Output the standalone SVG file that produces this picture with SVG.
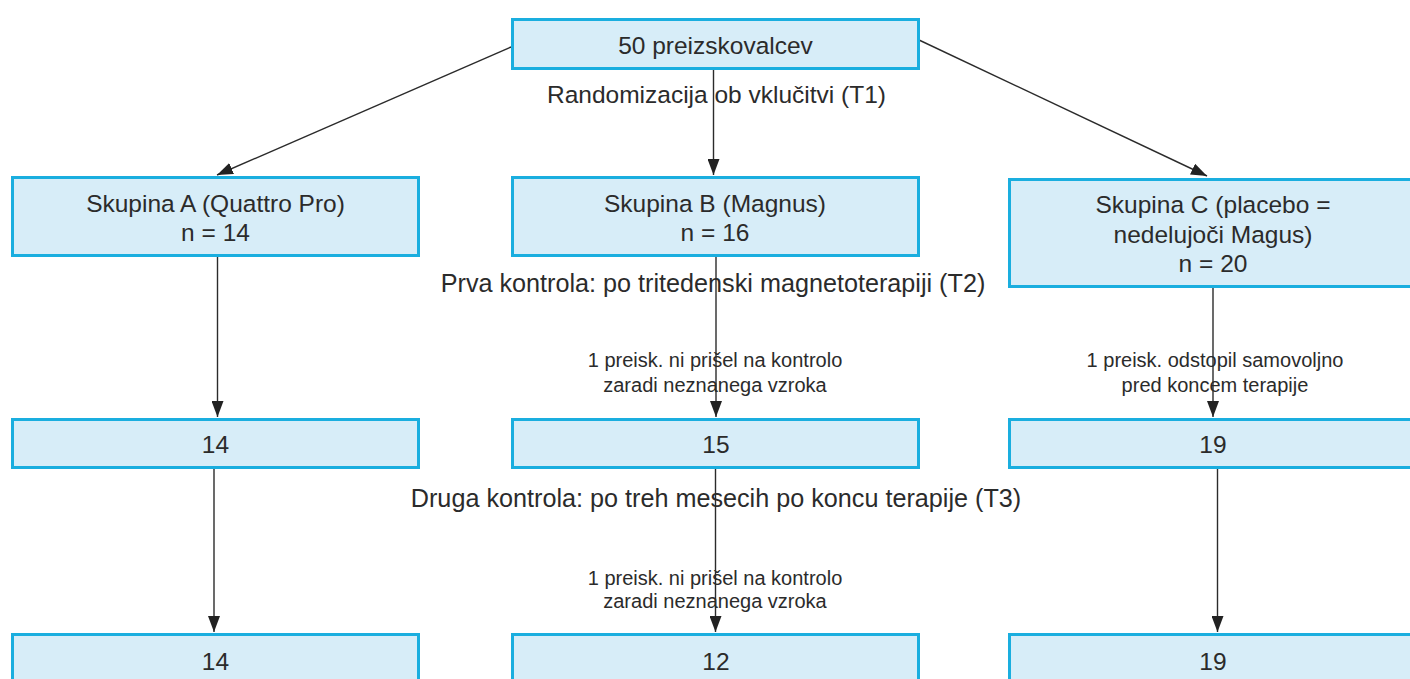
<svg xmlns="http://www.w3.org/2000/svg" width="1410" height="679" viewBox="0 0 1410 679">
<style>
.box{fill:#d7edf8;stroke:#1aaedf;stroke-width:3}
.t{font-family:"Liberation Sans",Arial,sans-serif;font-size:24.5px;fill:#2b2b2b;text-anchor:middle}
.l{font-family:"Liberation Sans",Arial,sans-serif;font-size:25.2px;fill:#2b2b2b;text-anchor:middle}
.s{font-family:"Liberation Sans",Arial,sans-serif;font-size:20px;fill:#2b2b2b;text-anchor:middle}
.c{stroke:#2b2b2b;stroke-width:1.4;fill:none}
</style>
<defs>
<marker id="arr" markerUnits="userSpaceOnUse" markerWidth="16" markerHeight="12" refX="16" refY="6" orient="auto">
<path d="M0,0 L16,6 L0,12 z" fill="#222"/>
</marker>
</defs>
<rect width="1410" height="679" fill="#fff"/>
<g id="connectors">
<line class="c" x1="511" y1="47" x2="217" y2="175" marker-end="url(#arr)"/>
<line class="c" x1="919" y1="40" x2="1207" y2="176" marker-end="url(#arr)"/>
<line class="c" x1="713.5" y1="70" x2="713.5" y2="175" marker-end="url(#arr)"/>
<line class="c" x1="217.5" y1="257" x2="217.5" y2="417" marker-end="url(#arr)"/>
<line class="c" x1="716" y1="257" x2="716" y2="417" marker-end="url(#arr)"/>
<line class="c" x1="1213" y1="288" x2="1213" y2="417" marker-end="url(#arr)"/>
<line class="c" x1="214" y1="469" x2="214" y2="632" marker-end="url(#arr)"/>
<line class="c" x1="715.5" y1="469" x2="715.5" y2="632" marker-end="url(#arr)"/>
<line class="c" x1="1217.5" y1="469" x2="1217.5" y2="632" marker-end="url(#arr)"/>
</g>
<g id="n-top">
<rect class="box" x="512.5" y="19.5" width="406" height="49"/>
<text class="t" x="715.5" y="54">50 preizskovalcev</text>
</g>
<g id="lbl-t1"><text class="t" x="716.5" y="103">Randomizacija ob vklučitvi (T1)</text></g>
<g id="n-a">
<rect class="box" x="12.5" y="177.5" width="406" height="78"/>
<text class="t" x="215.5" y="212">Skupina A (Quattro Pro)</text>
<text class="t" x="215.5" y="241">n = 14</text>
</g>
<g id="n-b">
<rect class="box" x="512.5" y="177.5" width="406" height="78"/>
<text class="t" x="715" y="212">Skupina B (Magnus)</text>
<text class="t" x="715" y="241">n = 16</text>
</g>
<g id="n-c">
<rect class="box" x="1009.5" y="179.5" width="406" height="107"/>
<text class="t" x="1213" y="213">Skupina C (placebo =</text>
<text class="t" x="1213" y="242.5">nedelujoči Magus)</text>
<text class="t" x="1213" y="272">n = 20</text>
</g>
<g id="lbl-t2"><text class="l" x="713" y="292">Prva kontrola: po tritedenski magnetoterapiji (T2)</text></g>
<g id="lbl-b1">
<text class="s" x="715" y="367">1 preisk. ni prišel na kontrolo</text>
<text class="s" x="715" y="392">zaradi neznanega vzroka</text>
</g>
<g id="lbl-c1">
<text class="s" x="1215" y="367">1 preisk. odstopil samovoljno</text>
<text class="s" x="1215" y="392">pred koncem terapije</text>
</g>
<g id="n-a2">
<rect class="box" x="12.5" y="419.5" width="406" height="48"/>
<text class="t" x="215.5" y="453">14</text>
</g>
<g id="n-b2">
<rect class="box" x="512.5" y="419.5" width="406" height="48"/>
<text class="t" x="716" y="453">15</text>
</g>
<g id="n-c2">
<rect class="box" x="1009.5" y="419.5" width="406" height="48"/>
<text class="t" x="1213" y="453">19</text>
</g>
<g id="lbl-t3"><text class="l" x="716" y="507">Druga kontrola: po treh mesecih po koncu terapije (T3)</text></g>
<g id="lbl-b2">
<text class="s" x="715" y="585">1 preisk. ni prišel na kontrolo</text>
<text class="s" x="715" y="608">zaradi neznanega vzroka</text>
</g>
<g id="n-a3">
<rect class="box" x="12.5" y="634.5" width="406" height="60"/>
<text class="t" x="215.5" y="670">14</text>
</g>
<g id="n-b3">
<rect class="box" x="512.5" y="634.5" width="406" height="60"/>
<text class="t" x="716" y="670">12</text>
</g>
<g id="n-c3">
<rect class="box" x="1009.5" y="634.5" width="406" height="60"/>
<text class="t" x="1213" y="670">19</text>
</g>
</svg>
